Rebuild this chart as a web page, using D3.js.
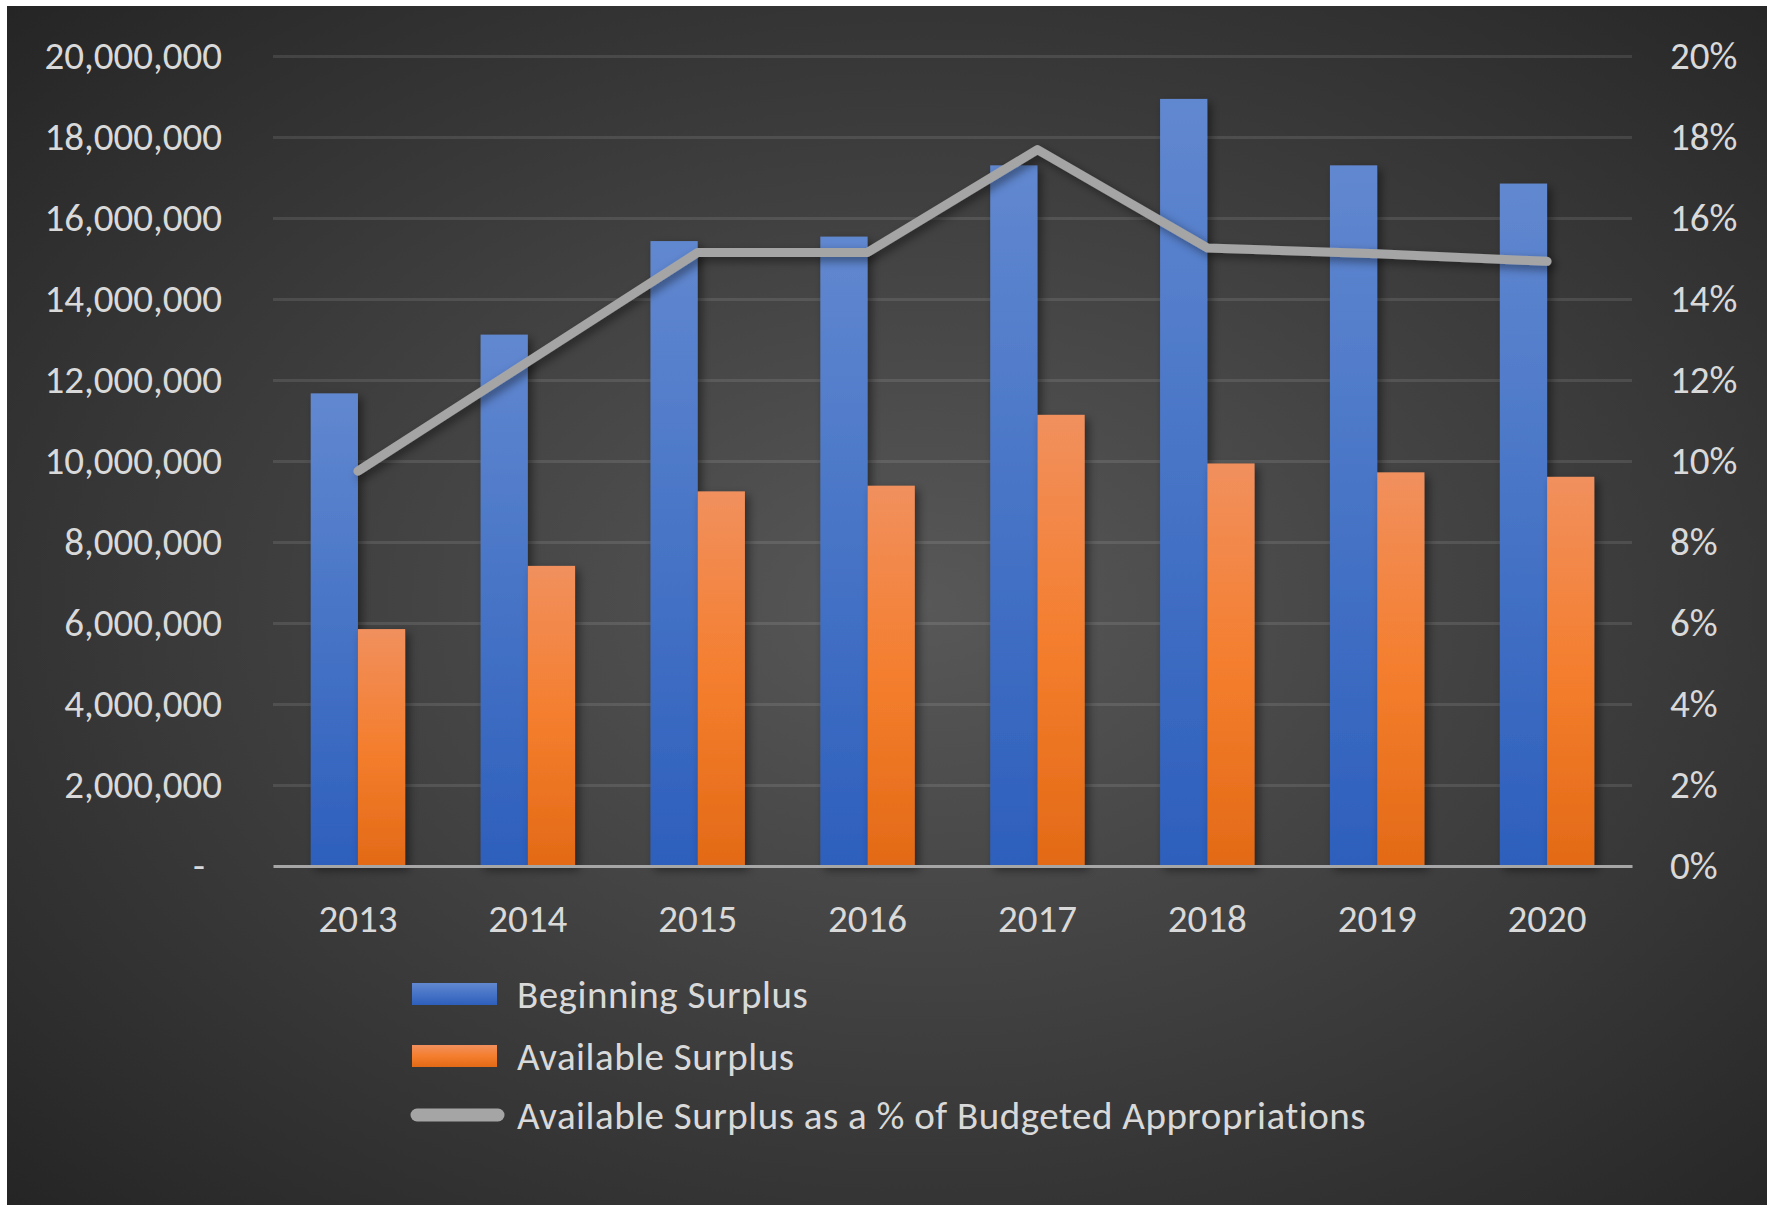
<!DOCTYPE html>
<html>
<head>
<meta charset="utf-8">
<script src="https://cdn.jsdelivr.net/npm/d3@7"></script>
<style>
  html, body { margin: 0; padding: 0; background: #ffffff; }
  svg { display: block; }
  .axis text { fill: #d9d9d9; font-family: Carlito, Calibri, Lato, sans-serif; }
</style>
</head>
<body>
<div id="chart"></div>
<script>
// Categories
const years = ['2013', '2014', '2015', '2016', '2017', '2018', '2019', '2020']

// Series values
const beginningSurplus = [11670000, 13120000, 15430000, 15540000, 17300000, 18940000, 17300000, 16850000]
const availableSurplus = [5850000, 7410000, 9250000, 9390000, 11140000, 9940000, 9720000, 9610000]
const surplusPct = [0.0975, 0.1245, 0.1515, 0.1515, 0.1769, 0.1526, 0.1512, 0.1493]

// Tick labels
const leftTicks = [0, 2000000, 4000000, 6000000, 8000000, 10000000, 12000000, 14000000, 16000000, 18000000, 20000000]
const rightTicks = [0, 0.02, 0.04, 0.06, 0.08, 0.10, 0.12, 0.14, 0.16, 0.18, 0.20]

// Legend labels
const seriesNames = ['Beginning Surplus', 'Available Surplus', 'Available Surplus as a % of Budgeted Appropriations']

;(function () {
  /** * ------------------ Set Up ------------------ ***/
  const width = 1767
  const height = 1205
  const plot = { left: 273, right: 1632, top: 56, bottom: 866 }
  const fontSize = 39

  const svg = d3.select('#chart').append('svg')
    .attr('width', width)
    .attr('height', height)

  const defs = svg.append('defs')

  // background radial gradient
  const bg = defs.append('radialGradient')
    .attr('id', 'bg')
    .attr('cx', '52%').attr('cy', '50%').attr('r', '72%')
  bg.append('stop').attr('offset', '0%').attr('stop-color', '#585858')
  bg.append('stop').attr('offset', '100%').attr('stop-color', '#252525')

  const blueGrad = defs.append('linearGradient')
    .attr('id', 'blueGrad').attr('x1', 0).attr('y1', 0).attr('x2', 0).attr('y2', 1)
  blueGrad.append('stop').attr('offset', '0%').attr('stop-color', '#6188d0')
  blueGrad.append('stop').attr('offset', '100%').attr('stop-color', '#2d5fbc')

  const orangeGrad = defs.append('linearGradient')
    .attr('id', 'orangeGrad').attr('x1', 0).attr('y1', 0).attr('x2', 0).attr('y2', 1)
  orangeGrad.append('stop').attr('offset', '0%').attr('stop-color', '#f1905e')
  orangeGrad.append('stop').attr('offset', '50%').attr('stop-color', '#f47e2e')
  orangeGrad.append('stop').attr('offset', '100%').attr('stop-color', '#e36a16')

  const shadow = defs.append('filter')
    .attr('id', 'shadow')
    .attr('x', '-20%').attr('y', '-20%').attr('width', '150%').attr('height', '150%')
  shadow.append('feDropShadow')
    .attr('dx', 4).attr('dy', 4).attr('stdDeviation', 5)
    .attr('flood-color', '#000').attr('flood-opacity', 0.45)

  svg.append('rect')
    .attr('x', 7).attr('y', 6)
    .attr('width', width - 7).attr('height', height - 6)
    .attr('fill', 'url(#bg)')

  /** * ------------------ Scales ------------------ ***/
  const x = d3.scaleBand()
    .domain(years)
    .range([plot.left, plot.right])
    .paddingInner(0.444)
    .paddingOuter(0.222)

  const xSeries = d3.scaleBand()
    .domain(['begin', 'avail'])
    .range([0, x.bandwidth()])

  const y = d3.scaleLinear()
    .domain([0, 20000000])
    .range([plot.bottom, plot.top])

  const yPct = d3.scaleLinear()
    .domain([0, 0.2])
    .range([plot.bottom, plot.top])

  /** * ------------------ Grid ------------------ ***/
  svg.append('g')
    .attr('class', 'grid')
    .attr('transform', `translate(${plot.left},0)`)
    .call(d3.axisLeft(y).tickValues(leftTicks.slice(1)).tickSize(-(plot.right - plot.left)).tickFormat(''))
    .call(g => g.select('.domain').remove())
    .call(g => g.selectAll('line').attr('stroke', '#ffffff').attr('stroke-opacity', 0.1).attr('stroke-width', 3))

  /** * ------------------ Bars ------------------ ***/
  const groups = svg.append('g')
    .selectAll('g')
    .data(years)
    .join('g')
    .attr('transform', d => `translate(${x(d)},0)`)

  groups.append('rect')
    .attr('x', xSeries('begin'))
    .attr('y', (d, i) => y(beginningSurplus[i]))
    .attr('width', xSeries.bandwidth())
    .attr('height', (d, i) => y(0) - y(beginningSurplus[i]))
    .attr('fill', 'url(#blueGrad)')
    .attr('filter', 'url(#shadow)')

  groups.append('rect')
    .attr('x', xSeries('avail'))
    .attr('y', (d, i) => y(availableSurplus[i]))
    .attr('width', xSeries.bandwidth())
    .attr('height', (d, i) => y(0) - y(availableSurplus[i]))
    .attr('fill', 'url(#orangeGrad)')
    .attr('filter', 'url(#shadow)')

  // baseline and category labels
  svg.append('g')
    .attr('class', 'axis x')
    .attr('transform', `translate(0,${plot.bottom})`)
    .call(d3.axisBottom(x).tickSize(0).tickPadding(52))
    .call(g => g.select('.domain').attr('stroke', '#a6a6a6').attr('stroke-width', 3))
    .call(g => g.selectAll('text').attr('font-size', fontSize).attr('dy', '0.35em'))

  /** * ------------------ Line ------------------ ***/
  const line = d3.line()
    .x((d, i) => x(years[i]) + x.bandwidth() / 2)
    .y(d => yPct(d))

  svg.append('path')
    .datum(surplusPct)
    .attr('d', line)
    .attr('fill', 'none')
    .attr('stroke', '#a5a5a5')
    .attr('stroke-width', 9)
    .attr('stroke-linecap', 'round')
    .attr('stroke-linejoin', 'round')
    .attr('filter', 'url(#shadow)')

  /** * ------------------ Axes ------------------ ***/
  svg.append('g')
    .attr('class', 'axis y left')
    .attr('transform', `translate(${plot.left},0)`)
    .call(d3.axisLeft(y).tickValues(leftTicks).tickSize(0).tickPadding(51)
      .tickFormat(d => d === 0 ? '-' : d3.format(',')(d)))
    .call(g => g.select('.domain').remove())
    .call(g => g.selectAll('text').attr('font-size', fontSize))
    .call(g => g.selectAll('.tick').filter(d => d === 0).select('text').attr('dx', -17))

  svg.append('g')
    .attr('class', 'axis y right')
    .attr('transform', `translate(${plot.right},0)`)
    .call(d3.axisRight(yPct).tickValues(rightTicks).tickSize(0).tickPadding(38)
      .tickFormat(d3.format('.0%')))
    .call(g => g.select('.domain').remove())
    .call(g => g.selectAll('text').attr('font-size', fontSize))

  /** * ------------------ Legend ------------------ ***/
  const legend = svg.append('g')
    .attr('class', 'axis legend')
    .attr('transform', 'translate(412,0)')
  const rows = [994, 1056, 1115]

  legend.append('rect')
    .attr('x', 0).attr('y', rows[0] - 11).attr('width', 85).attr('height', 22)
    .attr('fill', 'url(#blueGrad)')
  legend.append('rect')
    .attr('x', 0).attr('y', rows[1] - 11).attr('width', 85).attr('height', 22)
    .attr('fill', 'url(#orangeGrad)')
  legend.append('line')
    .attr('x1', 5).attr('x2', 86).attr('y1', rows[2]).attr('y2', rows[2])
    .attr('stroke', '#a5a5a5').attr('stroke-width', 13).attr('stroke-linecap', 'round')

  legend.selectAll('text')
    .data(seriesNames)
    .join('text')
    .attr('x', 105)
    .attr('y', (d, i) => rows[i])
    .attr('dy', '0.35em')
    .attr('font-size', fontSize)
    .attr('letter-spacing', 0.5)
    .text(d => d)
}())
</script>
</body>
</html>
